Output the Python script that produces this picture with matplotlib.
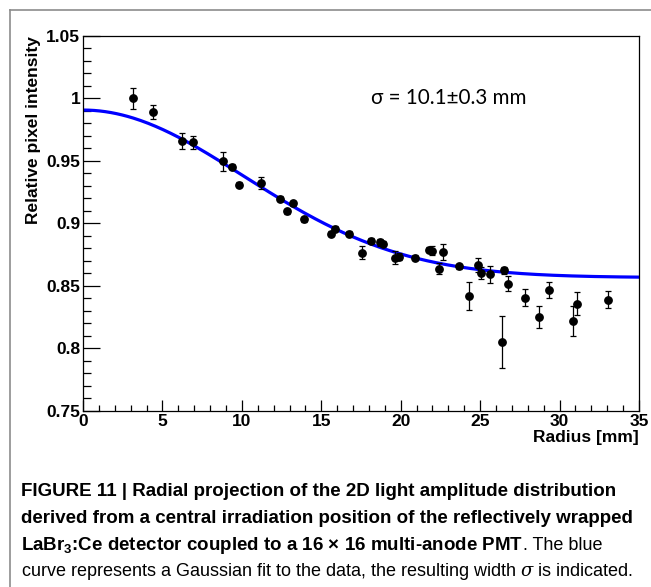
import matplotlib
matplotlib.use('Agg')
import matplotlib.pyplot as plt
import numpy as np
from matplotlib.ticker import MultipleLocator

plt.rcParams['font.family'] = ['Liberation Sans', 'DejaVu Sans']
plt.rcParams['mathtext.fontset'] = 'custom'
plt.rcParams['mathtext.rm'] = 'Liberation Sans'
plt.rcParams['mathtext.bf'] = 'Liberation Sans:bold'
plt.rcParams['mathtext.it'] = 'DejaVu Serif:italic'

# data
radius = [3.15, 4.41, 6.23, 6.95, 8.82, 9.36, 9.85, 11.19, 12.43, 12.83,
          13.2, 13.9, 15.6, 15.87, 16.75, 17.59, 18.14, 18.68, 18.89, 19.65,
          19.88, 20.87, 21.75, 22.0, 22.4, 22.67, 23.7, 24.31, 24.87, 25.04,
          25.65, 26.39, 26.53, 26.76, 27.81, 28.68, 29.35, 30.82, 31.09, 33.06]
intensity = [1.000, 0.9893, 0.966, 0.9648, 0.9498, 0.9453, 0.931, 0.932, 0.9197, 0.9098,
             0.916, 0.9032, 0.8915, 0.8955, 0.8917, 0.8765, 0.8861, 0.8848, 0.8835, 0.8725,
             0.8733, 0.8725, 0.879, 0.878, 0.8637, 0.8768, 0.8655, 0.8417, 0.8667, 0.860,
             0.8592, 0.805, 0.8624, 0.8515, 0.8406, 0.8248, 0.8469, 0.8218, 0.8357, 0.8389]
errors = [0.0085, 0.0057, 0.0064, 0.0052, 0.0076, 0.002, 0.002, 0.0047, 0.002, 0.002,
          0.002, 0.002, 0.002, 0.002, 0.002, 0.0053, 0.002, 0.003, 0.002, 0.005,
          0.003, 0.002, 0.002, 0.0037, 0.0045, 0.0065, 0.002, 0.011, 0.0057, 0.0048,
          0.0067, 0.0205, 0.003, 0.006, 0.0068, 0.0088, 0.0064, 0.012, 0.0092, 0.007]

# gaussian fit parameters
fit_amp = 0.134
fit_sigma = 10.1
fit_offset = 0.8566

fig = plt.figure(figsize=(6.51, 5.87), dpi=100)
ax = fig.add_axes([83 / 651, 1 - 410.8 / 587, (639 - 83) / 651, (410.8 - 35.8) / 587])

r = np.linspace(0, 35, 300)
ax.plot(r, fit_amp * np.exp(-r**2 / (2 * fit_sigma**2)) + fit_offset,
        color='#0000ff', lw=2.3, zorder=2)
ax.errorbar(radius, intensity, yerr=errors, fmt='o', color='black', ms=5.3,
            elinewidth=0.9, capsize=2.2, capthick=0.9, zorder=3)

ax.set_xlim(0, 35)
ax.set_ylim(0.75, 1.05)
ax.xaxis.set_major_locator(MultipleLocator(5))
ax.xaxis.set_minor_locator(MultipleLocator(1))
ax.yaxis.set_minor_locator(MultipleLocator(0.01))
ax.set_yticks([0.75, 0.8, 0.85, 0.9, 0.95, 1.0, 1.05])
ax.set_yticklabels(['0.75', '0.8', '0.85', '0.9', '0.95', '1', '1.05'])
ax.tick_params(which='both', direction='in', top=False, right=False,
               labelsize=12.5, width=0.9)
ax.tick_params(axis='y', which='major', length=12, pad=2)
ax.tick_params(axis='y', which='minor', length=6)
ax.tick_params(axis='x', which='major', length=8, pad=2)
ax.tick_params(axis='x', which='minor', length=4)
for lab in ax.get_xticklabels() + ax.get_yticklabels():
    lab.set_fontweight('bold')
for s in ax.spines.values():
    s.set_linewidth(0.9)

ax.set_xlabel('Radius [mm]', fontsize=12.5, fontweight='bold', loc='right', labelpad=1)
ax.set_ylabel('Relative pixel intensity', fontsize=12.5, fontweight='bold', loc='top', labelpad=4)

ax.text(18.1, 1.0, 'σ = 10.1±0.3 mm', fontsize=14.9, family=['Lato', 'DejaVu Sans'],
        va='center', ha='left')

# outer frame
fig.add_artist(plt.Line2D([10 / 651, 10 / 651], [0, 1 - 10 / 587], color='#8c8c8c', lw=1.2))
fig.add_artist(plt.Line2D([10 / 651, 1], [1 - 10 / 587, 1 - 10 / 587], color='#8c8c8c', lw=1.2))

# caption
cap_x = 21 / 651
fs_b = 13.5
fs_n = 13.0
fig.text(cap_x, 1 - 492 / 587, 'FIGURE 11 | Radial projection of the 2D light amplitude distribution',
         fontsize=fs_b, fontweight='bold', va='center')
fig.text(cap_x, 1 - 518.5 / 587, 'derived from a central irradiation position of the reflectively wrapped',
         fontsize=fs_b, fontweight='bold', va='center')
base3 = 1 - 550 / 587
t3 = fig.text(cap_x, base3, r'LaBr$\mathbf{_3}$:Ce detector coupled to a 16 × 16 multi-anode PMT',
              fontsize=fs_b, fontweight='bold', va='baseline')
fig.canvas.draw()
bb = t3.get_window_extent()
fig.text(bb.x1 / fig.bbox.width, base3, '. The blue', fontsize=fs_n, va='baseline')
fig.text(cap_x, 1 - 572 / 587, r'curve represents a Gaussian fit to the data, the resulting width $\it{\sigma}$ is indicated.',
         fontsize=fs_n, va='center')

fig.savefig('out.png', dpi=100)
